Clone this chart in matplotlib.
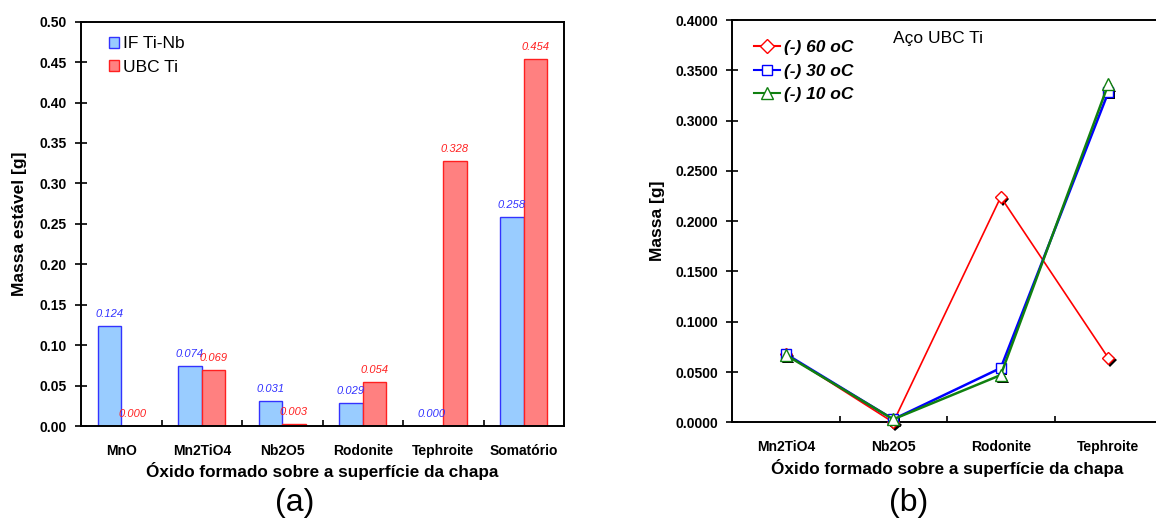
import numpy as np
import matplotlib
matplotlib.use('Agg')
import matplotlib.pyplot as plt
import matplotlib.patheffects as pe
from matplotlib.patches import Patch
from matplotlib.lines import Line2D

plt.rcParams['font.family'] = ['Liberation Sans', 'DejaVu Sans']

# (a) massa estavel de cada oxido
oxidos_a = ['MnO', 'Mn2TiO4', 'Nb2O5', 'Rodonite', 'Tephroite', 'Somatório']
if_tinb = [0.124, 0.074, 0.031, 0.029, 0.000, 0.258]
ubc_ti = [0.000, 0.069, 0.003, 0.054, 0.328, 0.454]

# (b) aco UBC Ti, tres temperaturas
oxidos_b = ['Mn2TiO4', 'Nb2O5', 'Rodonite', 'Tephroite']
t60 = [0.068, 0.000, 0.224, 0.064]
t30 = [0.068, 0.003, 0.054, 0.328]
t10 = [0.067, 0.003, 0.047, 0.336]

W, H = 1156, 519
fig = plt.figure(figsize=(W/100, H/100), dpi=100)

# ---------------- (a) bars ----------------
ax1 = fig.add_axes([81/W, 1-426/H, 483/W, (426-21.7)/H])
x = np.arange(len(oxidos_a))
w = 0.29
ax1.bar(x - w/2, if_tinb, w, color='#99CCFF', edgecolor='#3333FF', lw=1.0)
ax1.bar(x + w/2, ubc_ti, w, color='#FF8080', edgecolor='#FF2020', lw=1.0)
for xi, v in zip(x - w/2, if_tinb):
    ax1.annotate('%.3f' % v, (xi, v), xytext=(0, 5), textcoords='offset points',
                 ha='center', va='bottom', fontsize=8, style='italic', color='#3333FF')
for xi, v in zip(x + w/2, ubc_ti):
    ax1.annotate('%.3f' % v, (xi, v), xytext=(0, 5), textcoords='offset points',
                 ha='center', va='bottom', fontsize=8, style='italic', color='#FF2020')

ax1.set_xlim(-0.5, len(oxidos_a) - 0.5)
ax1.set_ylim(0, 0.5)
ax1.set_yticks(np.arange(0, 0.501, 0.05))
ax1.yaxis.set_major_formatter(matplotlib.ticker.FormatStrFormatter('%.2f'))
ax1.set_xticks(x)
ax1.set_xticklabels(oxidos_a)
ax1.set_xticks(np.arange(0.5, len(oxidos_a) - 0.5), minor=True)
ax1.tick_params(axis='x', which='major', length=0, pad=13, labelsize=10)
ax1.tick_params(axis='x', which='minor', direction='in', length=4, width=1.2)
ax1.tick_params(axis='y', direction='inout', length=8, width=1.2, pad=6, labelsize=10)
for t in ax1.get_xticklabels() + ax1.get_yticklabels():
    t.set_fontweight('bold')
for s in ax1.spines.values():
    s.set_linewidth(1.4)
ax1.set_xlabel('Óxido formado sobre a superfície da chapa', fontsize=12.3, fontweight='bold')
ax1.xaxis.set_label_coords(0.5, -0.088)
ax1.set_ylabel('Massa estável [g]', fontsize=12.5, fontweight='bold')
ax1.yaxis.set_label_coords(-0.112, 0.5)

handles = [Patch(facecolor='#99CCFF', edgecolor='#3333FF', label='IF Ti-Nb'),
           Patch(facecolor='#FF8080', edgecolor='#FF2020', label='UBC Ti')]
ax1.legend(handles=handles, loc='upper left', bbox_to_anchor=(0.058, 0.964),
           frameon=False, fontsize=12.5, handlelength=0.58, handleheight=0.58,
           handletextpad=0.2, labelspacing=0.48, borderpad=0, borderaxespad=0)

# ---------------- (b) lines ----------------
ax2 = fig.add_axes([732/W, 1-422.3/H, 430/W, (422.3-20)/H])
xb = np.arange(len(oxidos_b))
series = [(t60, 'D', 6.5, '#FF0000', 1.2, '(-) 60 oC'),
          (t30, 's', 6.5, '#0000FF', 1.8, '(-) 30 oC'),
          (t10, '^', 8, '#108010', 1.8, '(-) 10 oC')]
shadow = [pe.SimplePatchShadow(offset=(1.6, -1.6), shadow_rgbFace='black', alpha=1)]
for vals, m, ms, c, lw, lab in series:
    ax2.plot(xb, vals, ls='none', marker=m, ms=ms, mfc='white', mec='black',
             path_effects=shadow, zorder=2, clip_on=False)
hnd = []
for vals, m, ms, c, lw, lab in series:
    ax2.plot(xb, vals, color=c, lw=lw, marker=m, ms=ms, mfc='white', mec=c,
             mew=1.0, zorder=3, clip_on=False)
    hnd.append(Line2D([], [], color=c, lw=1.5, marker=m, ms=ms + 1, mfc='white',
                      mec=c, mew=1.0, label=lab))

ax2.set_xlim(-0.5, len(oxidos_b) - 0.5)
ax2.set_ylim(0, 0.4)
ax2.set_yticks(np.arange(0, 0.401, 0.05))
ax2.yaxis.set_major_formatter(matplotlib.ticker.FormatStrFormatter('%.4f'))
ax2.set_xticks(xb)
ax2.set_xticklabels(oxidos_b)
ax2.set_xticks(np.arange(0.5, len(oxidos_b) - 0.5), minor=True)
ax2.tick_params(axis='x', which='major', length=0, pad=13, labelsize=10)
ax2.tick_params(axis='x', which='minor', direction='in', length=4, width=1.2)
ax2.tick_params(axis='y', direction='inout', length=8, width=1.2, pad=6, labelsize=10)
for t in ax2.get_xticklabels() + ax2.get_yticklabels():
    t.set_fontweight('bold')
for s in ax2.spines.values():
    s.set_linewidth(1.4)
ax2.set_xlabel('Óxido formado sobre a superfície da chapa', fontsize=12.3, fontweight='bold')
ax2.xaxis.set_label_coords(0.5, -0.09)
ax2.set_ylabel('Massa [g]', fontsize=12.5, fontweight='bold')
ax2.yaxis.set_label_coords(-0.155, 0.5)
ax2.text(0.374, 0.953, 'Aço UBC Ti', transform=ax2.transAxes, fontsize=12.5,
         ha='left', va='center')
ax2.legend(handles=hnd, loc='upper left', bbox_to_anchor=(0.05, 0.95),
           frameon=False, prop={'size': 12.5, 'weight': 'bold', 'style': 'italic'},
           handlelength=1.5, handletextpad=0.23, labelspacing=0.48,
           borderpad=0, borderaxespad=0)

fig.text(294.5/W, 1-503/H, '(a)', fontsize=23, ha='center', va='center')
fig.text(909/W, 1-503/H, '(b)', fontsize=23, ha='center', va='center')

fig.savefig('out.png', dpi=100)
